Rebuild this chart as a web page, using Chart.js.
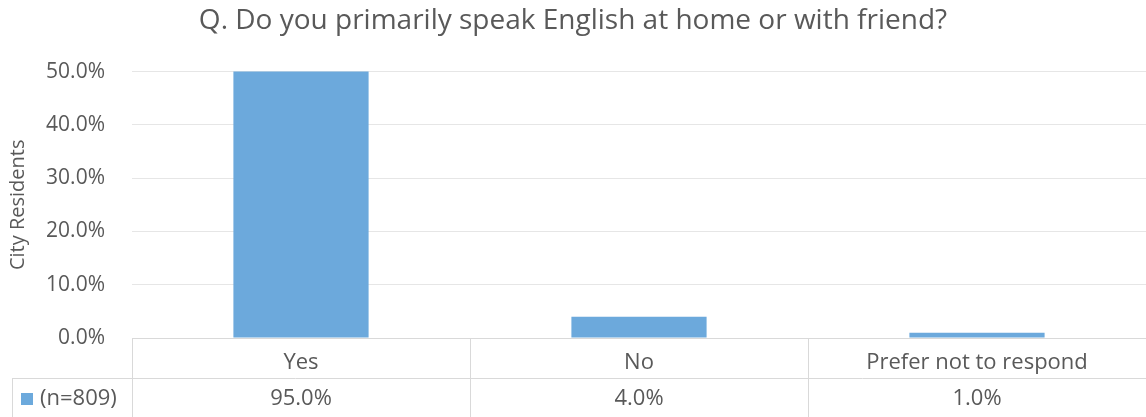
<!DOCTYPE html>
<html>
<head>
<meta charset="utf-8">
<script src="https://cdn.jsdelivr.net/npm/chart.js@4.4.1/dist/chart.umd.min.js"></script>
<style>
  body { margin: 0; background: #fff; }
  #wrap { width: 1146px; height: 417px; }
</style>
</head>
<body>
<div id="wrap"><canvas id="chart"></canvas></div>
<script>
const categories = ['Yes', 'No', 'Prefer not to respond'];
const values = [95.0, 4.0, 1.0];
const seriesLabel = '(n=809)';
const yTicks = [0, 10, 20, 30, 40, 50];

const textColor = '#595959';
const lineColor = '#d9d9d9';
const barColor = '#6ca9dc';
const fontFamily = '"Open Sans", "Noto Sans", sans-serif';

// draws the data table under the plot (lines, legend key, values)
const dataTable = {
    id: 'dataTable',
    afterDraw(chart) {
        const ctx = chart.ctx;
        const x = chart.scales.x;
        const area = chart.chartArea;
        const top = area.bottom;
        const mid = top + 40;
        const bottom = chart.height;
        const left = 12;
        ctx.save();
        ctx.strokeStyle = lineColor;
        ctx.lineWidth = 1;
        ctx.beginPath();
        ctx.moveTo(area.left, top + 0.5); ctx.lineTo(area.right, top + 0.5);
        ctx.moveTo(left, mid + 0.5); ctx.lineTo(area.right, mid + 0.5);
        ctx.moveTo(left + 0.5, mid); ctx.lineTo(left + 0.5, bottom);
        const step = (area.right - area.left) / categories.length;
        for (let i = 0; i < categories.length; i++) {
            const lx = Math.round(area.left + i * step) + 0.5;
            ctx.moveTo(lx, top); ctx.lineTo(lx, bottom);
        }
        ctx.stroke();

        ctx.fillStyle = barColor;
        ctx.fillRect(21, mid + 15, 12, 12);
        ctx.fillStyle = textColor;
        ctx.font = '22px ' + fontFamily;
        ctx.textBaseline = 'middle';
        ctx.textAlign = 'left';
        ctx.fillText(seriesLabel, 40, mid + 21);
        ctx.textAlign = 'center';
        values.forEach((v, i) => {
            ctx.fillText(v.toFixed(1) + '%', x.getPixelForValue(i), mid + 21);
        });
        ctx.restore();
    }
};

new Chart(document.getElementById('chart'), {
    type: 'bar',
    data: {
        labels: categories,
        datasets: [{
            label: seriesLabel,
            data: values,
            backgroundColor: barColor,
            categoryPercentage: 0.8,
            barPercentage: 0.5,
            clip: 0
        }]
    },
    options: {
        responsive: true,
        maintainAspectRatio: false,
        animation: false,
        layout: { padding: 0 },
        plugins: {
            legend: { display: false },
            tooltip: { enabled: false },
            title: {
                display: true,
                text: 'Q. Do you primarily speak English at home or with friend?',
                color: textColor,
                font: { family: fontFamily, size: 28, weight: 'normal' },
                padding: { top: 4, bottom: 34 }
            }
        },
        scales: {
            x: {
                grid: { display: false },
                border: { display: false },
                ticks: {
                    color: textColor,
                    font: { family: fontFamily, size: 22 },
                    padding: 4,
                    maxRotation: 0
                },
                afterFit(scale) { scale.height = 79; }
            },
            y: {
                min: 0,
                max: 50,
                afterBuildTicks(scale) { scale.ticks = yTicks.map(v => ({ value: v })); },
                grid: { color: '#e6e6e6', drawTicks: false },
                border: { display: false },
                ticks: {
                    color: textColor,
                    font: { family: fontFamily, size: 21 },
                    padding: 27,
                    callback: v => v.toFixed(1) + '%'
                },
                title: {
                    display: true,
                    text: 'City Residents',
                    color: textColor,
                    font: { family: fontFamily, size: 20 },
                    padding: { top: 6, bottom: 0 }
                },
                afterFit(scale) { scale.width = 132; }
            }
        }
    },
    plugins: [dataTable]
});
</script>
</body>
</html>
